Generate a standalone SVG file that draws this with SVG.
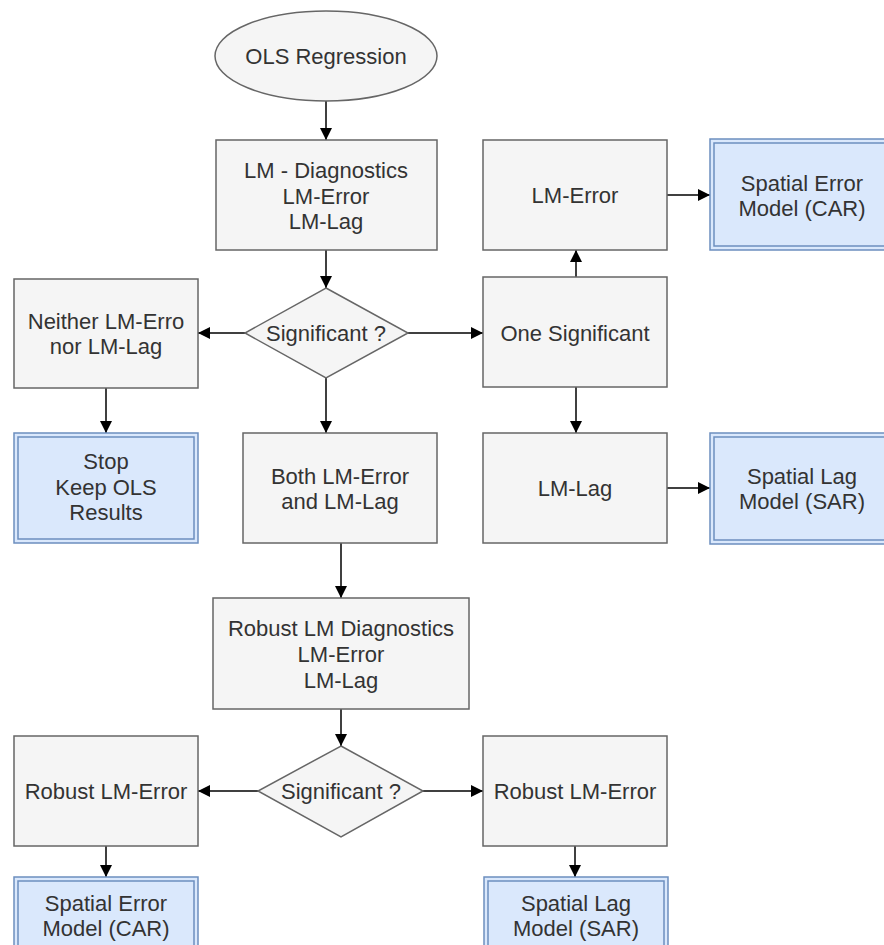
<svg xmlns="http://www.w3.org/2000/svg" width="884" height="945" viewBox="0 0 884 945">
<defs>
<style>
.box{fill:#f5f5f5;stroke:#666666;stroke-width:1.5}
.blue{fill:#dae8fc;stroke:#6c8ebf;stroke-width:1.5}
.blue2{fill:none;stroke:#6c8ebf;stroke-width:1.5}
.t{font-family:"Liberation Sans",Arial,sans-serif;font-size:22px;fill:#333333;text-anchor:middle}
.c{fill:none;stroke:#000000;stroke-width:1.5}
</style>
<marker id="ah" markerUnits="userSpaceOnUse" markerWidth="14" markerHeight="12" refX="12" refY="6" orient="auto">
<path d="M0,0 L12,6 L0,12 Z" fill="#000000"/>
</marker>
</defs>
<rect width="884" height="945" fill="#ffffff"/>
<g id="connectors">
<line class="c" x1="326" y1="101" x2="326" y2="140" marker-end="url(#ah)"/>
<line class="c" x1="326" y1="250" x2="326" y2="288" marker-end="url(#ah)"/>
<line class="c" x1="245" y1="333" x2="198" y2="333" marker-end="url(#ah)"/>
<line class="c" x1="408" y1="333" x2="483" y2="333" marker-end="url(#ah)"/>
<line class="c" x1="326" y1="378" x2="326" y2="433" marker-end="url(#ah)"/>
<line class="c" x1="106" y1="388" x2="106" y2="433" marker-end="url(#ah)"/>
<line class="c" x1="576" y1="277" x2="576" y2="250" marker-end="url(#ah)"/>
<line class="c" x1="576" y1="387" x2="576" y2="433" marker-end="url(#ah)"/>
<line class="c" x1="667" y1="195" x2="710" y2="195" marker-end="url(#ah)"/>
<line class="c" x1="667" y1="488" x2="710" y2="488" marker-end="url(#ah)"/>
<line class="c" x1="341" y1="543" x2="341" y2="598" marker-end="url(#ah)"/>
<line class="c" x1="341" y1="709" x2="341" y2="746" marker-end="url(#ah)"/>
<line class="c" x1="258" y1="791" x2="198" y2="791" marker-end="url(#ah)"/>
<line class="c" x1="423" y1="791" x2="483" y2="791" marker-end="url(#ah)"/>
<line class="c" x1="106" y1="846" x2="106" y2="877" marker-end="url(#ah)"/>
<line class="c" x1="575" y1="846" x2="575" y2="877" marker-end="url(#ah)"/>
</g>
<g id="ols">
<ellipse class="box" cx="326" cy="56" rx="111" ry="45"/>
<text class="t" x="326" y="64">OLS Regression</text>
</g>
<g id="lmdiag">
<rect class="box" x="216" y="140" width="221" height="110"/>
<text class="t" x="326" y="178">LM - Diagnostics</text>
<text class="t" x="326" y="203.5">LM-Error</text>
<text class="t" x="326" y="229">LM-Lag</text>
</g>
<g id="sig1">
<polygon class="box" points="326,288 408,333 326,378 245,333"/>
<text class="t" x="326" y="341">Significant ?</text>
</g>
<g id="neither">
<rect class="box" x="14" y="279" width="184" height="109"/>
<text class="t" x="106" y="328.5">Neither LM-Erro</text>
<text class="t" x="106" y="354">nor LM-Lag</text>
</g>
<g id="stop">
<rect class="blue" x="14" y="433" width="184" height="110"/>
<rect class="blue2" x="18" y="437" width="176" height="102"/>
<text class="t" x="106" y="469">Stop</text>
<text class="t" x="106" y="494.5">Keep OLS</text>
<text class="t" x="106" y="520">Results</text>
</g>
<g id="lmerror">
<rect class="box" x="483" y="140" width="184" height="110"/>
<text class="t" x="575" y="203">LM-Error</text>
</g>
<g id="sem1">
<rect class="blue" x="710" y="139" width="184" height="111"/>
<rect class="blue2" x="714" y="143" width="176" height="103"/>
<text class="t" x="802" y="190.5">Spatial Error</text>
<text class="t" x="802" y="216">Model (CAR)</text>
</g>
<g id="onesig">
<rect class="box" x="483" y="277" width="184" height="110"/>
<text class="t" x="575" y="340.5">One Significant</text>
</g>
<g id="lmlag">
<rect class="box" x="483" y="433" width="184" height="110"/>
<text class="t" x="575" y="496">LM-Lag</text>
</g>
<g id="sar1">
<rect class="blue" x="710" y="433" width="184" height="111"/>
<rect class="blue2" x="714" y="437" width="176" height="103"/>
<text class="t" x="802" y="483.5">Spatial Lag</text>
<text class="t" x="802" y="509">Model (SAR)</text>
</g>
<g id="both">
<rect class="box" x="243" y="433" width="194" height="110"/>
<text class="t" x="340" y="483.5">Both LM-Error</text>
<text class="t" x="340" y="509">and LM-Lag</text>
</g>
<g id="robustdiag">
<rect class="box" x="213" y="598" width="256" height="111"/>
<text class="t" x="341" y="636">Robust LM Diagnostics</text>
<text class="t" x="341" y="662">LM-Error</text>
<text class="t" x="341" y="687.5">LM-Lag</text>
</g>
<g id="sig2">
<polygon class="box" points="341,746 423,791 341,837 258,791"/>
<text class="t" x="341" y="799">Significant ?</text>
</g>
<g id="robustleft">
<rect class="box" x="14" y="736" width="184" height="110"/>
<text class="t" x="106" y="799">Robust LM-Error</text>
</g>
<g id="robustright">
<rect class="box" x="483" y="736" width="184" height="110"/>
<text class="t" x="575" y="799">Robust LM-Error</text>
</g>
<g id="sem2">
<rect class="blue" x="14" y="877" width="184" height="110"/>
<rect class="blue2" x="18" y="881" width="176" height="102"/>
<text class="t" x="106" y="911">Spatial Error</text>
<text class="t" x="106" y="936">Model (CAR)</text>
</g>
<g id="sar2">
<rect class="blue" x="484" y="877" width="184" height="110"/>
<rect class="blue2" x="488" y="881" width="176" height="102"/>
<text class="t" x="576" y="911">Spatial Lag</text>
<text class="t" x="576" y="936">Model (SAR)</text>
</g>
</svg>
